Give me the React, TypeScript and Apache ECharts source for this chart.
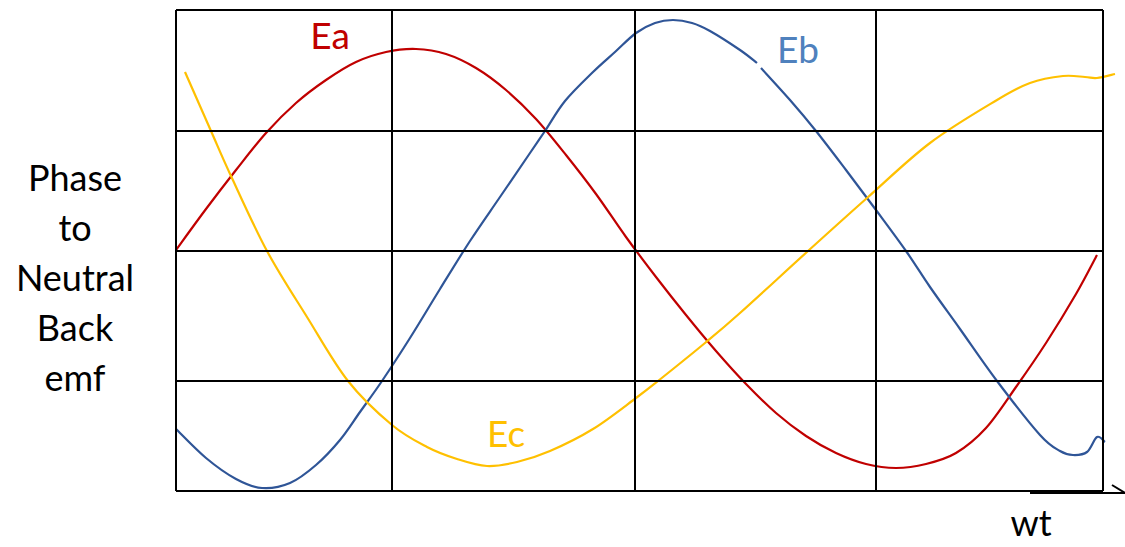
import React, { useEffect, useRef } from "react";
import * as echarts from "echarts";

// x in "wt" units (0..949), y in emf units (-10..481)
const vLines = [0, 216, 459, 700, 927];
const hLines = [0, 110, 240, 360, 481];

const ea: [number, number][] = [
  [0, 241], [30, 282], [60, 321], [90, 358], [120, 388], [150, 411], [180, 429], [210, 439],
  [240, 442], [270, 437], [300, 423], [330, 401], [360, 372], [390, 336], [420, 297], [450, 254],
  [480, 214], [510, 176], [540, 140], [570, 107], [600, 78], [630, 55], [660, 38], [690, 27],
  [720, 23], [750, 27], [780, 38], [810, 63], [840, 104], [870, 148], [900, 197], [921, 236],
];

// Eb is drawn in two pieces (small break near the "Eb" label)
const eb1: [number, number][] = [
  [0, 62], [30, 33], [60, 12], [86, 3], [114, 8], [140, 26], [164, 51], [184, 79], [206, 110],
  [234, 153], [264, 202], [294, 250], [324, 294], [354, 338], [369, 360], [389, 390], [417, 419],
  [439, 439], [460, 458], [479, 468], [497, 471], [516, 468], [534, 460], [564, 441], [581, 428],
];
const eb2: [number, number][] = [
  [585, 423], [614, 391], [640, 360], [670, 321], [700, 281], [730, 240], [754, 204], [784, 162],
  [821, 110], [864, 56], [884, 40], [897, 36], [911, 39], [921, 54], [929, 49],
];

const ec: [number, number][] = [
  [9, 419], [35, 360], [55, 315], [91, 240], [131, 174], [172, 110], [216, 66],
  [251, 44], [281, 32], [311, 25], [341, 29], [374, 40], [417, 62], [460, 93], [482, 110],
  [529, 148], [564, 178], [632, 240], [691, 293], [754, 348], [821, 391],
  [854, 408], [887, 415], [909, 414], [921, 413], [939, 417],
];

const yTitle = ["Phase", "to", "Neutral", "Back", "emf"];
const FONT = "Lato, 'Noto Sans', sans-serif";

function splinePath(p: number[][]): string {
  if (p.length < 2) return "";
  let d = `M${p[0][0]},${p[0][1]}`;
  for (let i = 0; i < p.length - 1; i++) {
    const p0 = p[i - 1] || p[i];
    const p1 = p[i];
    const p2 = p[i + 1];
    const p3 = p[i + 2] || p2;
    const c1x = p1[0] + (p2[0] - p0[0]) / 6;
    const c1y = p1[1] + (p2[1] - p0[1]) / 6;
    const c2x = p2[0] - (p3[0] - p1[0]) / 6;
    const c2y = p2[1] - (p3[1] - p1[1]) / 6;
    d += ` C${c1x},${c1y} ${c2x},${c2y} ${p2[0]},${p2[1]}`;
  }
  return d;
}

function curveSeries(name: string, pieces: [number, number][][], color: string) {
  return {
    name,
    type: "custom",
    silent: true,
    clip: false,
    data: pieces[0],
    renderItem: (params: any, api: any) => {
      if (params.dataIndex !== 0) return null;
      return {
        type: "group",
        children: pieces.map((pts) => ({
          type: "path",
          shape: { pathData: splinePath(pts.map((v) => api.coord(v))) },
          style: { stroke: color, lineWidth: 2.2, fill: "none" },
        })),
      };
    },
  };
}

export default function App() {
  const ref = useRef<HTMLDivElement>(null);
  useEffect(() => {
    if (!ref.current) return;
    const chart = echarts.init(ref.current, null, { renderer: "svg" });
    const gridLineData: any[] = [
      ...vLines.map((x) => [{ coord: [x, 0] }, { coord: [x, 481] }]),
      ...hLines.map((y) => [{ coord: [0, y] }, { coord: [927, y] }]),
      [{ coord: [854, -2] }, { coord: [949, -2] }],
      [{ coord: [936, 6] }, { coord: [949, -2] }],
    ];
    chart.setOption({
      animation: false,
      backgroundColor: "#ffffff",
      grid: { left: 176, top: 10, width: 949, height: 491 },
      xAxis: { type: "value", min: 0, max: 949, show: false },
      yAxis: { type: "value", min: -10, max: 481, show: false },
      series: [
        {
          type: "line",
          data: [],
          silent: true,
          markLine: {
            silent: true,
            symbol: "none",
            label: { show: false },
            lineStyle: { color: "#000000", width: 2, type: "solid" },
            emphasis: { disabled: true },
            data: gridLineData,
          },
        },
        curveSeries("Ea", [ea], "#C00000"),
        curveSeries("Eb", [eb1, eb2], "#2F5597"),
        curveSeries("Ec", [ec], "#FFC000"),
      ],
      graphic: [
        {
          type: "text", x: 75, y: 277,
          style: {
            text: yTitle.join("\n"), fill: "#000000", font: `36px ${FONT}`,
            align: "center", verticalAlign: "middle", lineHeight: 50,
          },
        },
        { type: "text", x: 330, y: 34, style: { text: "Ea", fill: "#C00000", font: `37px ${FONT}`, align: "center", verticalAlign: "middle" } },
        { type: "text", x: 798, y: 48, style: { text: "Eb", fill: "#4F81BD", font: `37px ${FONT}`, align: "center", verticalAlign: "middle" } },
        { type: "text", x: 506, y: 432, style: { text: "Ec", fill: "#FFC000", font: `37px ${FONT}`, align: "center", verticalAlign: "middle" } },
        { type: "text", x: 1031, y: 522, style: { text: "wt", fill: "#000000", font: `36px ${FONT}`, align: "center", verticalAlign: "middle" } },
      ],
    });
    return () => chart.dispose();
  }, []);
  return (
    <div
      ref={ref}
      style={{ position: "fixed", left: 0, top: 0, width: 1125, height: 547, background: "#fff" }}
    />
  );
}
